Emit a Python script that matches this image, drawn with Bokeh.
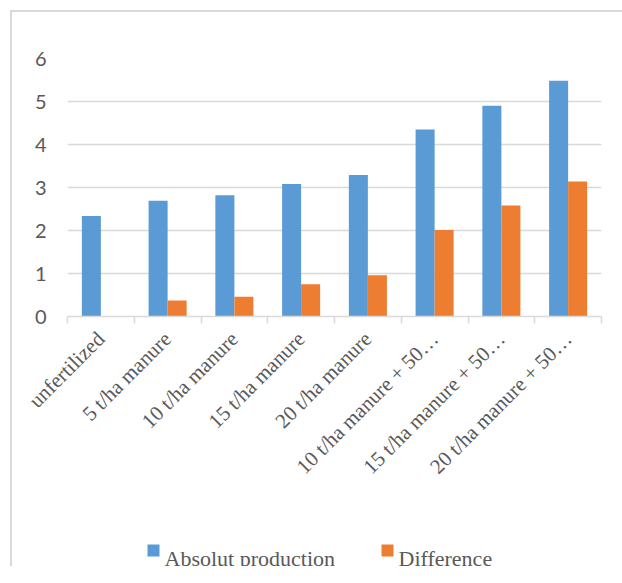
import math
from bokeh.plotting import figure
from bokeh.models import (ColumnDataSource, FixedTicker, Range1d, Label, BoxAnnotation)
from bokeh.layouts import column
from bokeh.transform import dodge
from bokeh.embed import file_html
from bokeh.resources import INLINE

categories = ["unfertilized", "5 t/ha manure", "10 t/ha manure", "15 t/ha manure",
              "20 t/ha manure", "10 t/ha manure + 50…", "15 t/ha manure + 50…",
              "20 t/ha manure + 50…"]
absolut_production = [2.34, 2.69, 2.82, 3.08, 3.29, 4.35, 4.90, 5.48]
difference = [0.0, 0.37, 0.46, 0.75, 0.96, 2.01, 2.58, 3.14]
series_names = ["Absolut production", "Difference"]
y_ticks = [0, 1, 2, 3, 4, 5, 6]

BLUE = "#5B9BD5"
ORANGE = "#ED7D31"
GRID = "#D9D9D9"
TXT = "#595959"
series_colors = [BLUE, ORANGE]

n = len(categories)
centers = [i + 0.5 for i in range(n)]
src = ColumnDataSource(dict(x=centers, a=absolut_production, d=difference))

p = figure(frame_width=534, frame_height=258, output_backend="svg", toolbar_location=None,
           x_range=Range1d(0, n), y_range=Range1d(0, 6),
           min_border_left=55, min_border_right=22, min_border_top=46, min_border_bottom=220)
p.outline_line_color = None
p.background_fill_color = "white"
p.border_fill_color = "white"

bw = 0.285
p.vbar(x=dodge("x", -bw / 2, range=p.x_range), top="a", width=bw, source=src,
       fill_color=BLUE, line_color=None)
p.vbar(x=dodge("x", bw / 2, range=p.x_range), top="d", width=bw, source=src,
       fill_color=ORANGE, line_color=None)

# y axis
p.yaxis.ticker = FixedTicker(ticks=y_ticks)
p.yaxis.axis_line_color = None
p.yaxis.major_tick_line_color = None
p.yaxis.minor_tick_line_color = None
p.yaxis.major_label_text_font = "Lato"
p.yaxis.major_label_text_font_size = "20px"
p.yaxis.major_label_text_color = TXT
p.yaxis.major_label_standoff = 15
p.ygrid.ticker = FixedTicker(ticks=y_ticks)
p.ygrid.grid_line_color = GRID
p.ygrid.grid_line_width = 1.5
p.xgrid.grid_line_color = None

# x axis
p.xaxis.ticker = FixedTicker(ticks=centers, minor_ticks=list(range(n + 1)))
p.xaxis.major_label_overrides = {c: lab for c, lab in zip(centers, categories)}
p.xaxis.major_label_orientation = math.pi / 4
p.xaxis.major_tick_in = 0
p.xaxis.major_tick_out = 0
p.xaxis.minor_tick_in = 0
p.xaxis.minor_tick_out = 7
p.xaxis.minor_tick_line_color = GRID
p.xaxis.minor_tick_line_width = 1.5
p.xaxis.axis_line_color = GRID
p.xaxis.axis_line_width = 1.5
p.xaxis.major_label_text_font = "Liberation Serif"
p.xaxis.major_label_text_font_size = "21px"
p.xaxis.major_label_text_color = TXT
p.xaxis.major_label_standoff = 12

# legend strip: a pixel-scaled strip below the chart holding swatches and serif labels
p2 = figure(width=611, height=30, output_backend="svg", toolbar_location=None,
            x_axis_type=None, y_axis_type=None, min_border=0,
            x_range=Range1d(0, 534), y_range=Range1d(0, 30))
p2.outline_line_color = None
p2.xgrid.grid_line_color = None
p2.ygrid.grid_line_color = None

legend_swatch_left = [80, 314]
for name, color, sx in zip(series_names, series_colors, legend_swatch_left):
    p2.add_layout(BoxAnnotation(left=sx, right=sx + 12, bottom=10, top=22,
                                fill_color=color, fill_alpha=1.0, line_color=None))
    p2.add_layout(Label(x=sx + 17, y=8, text=name, text_font="Liberation Serif",
                        text_font_size="22px", text_color=TXT,
                        text_baseline="alphabetic", text_align="left"))

layout = column(p, p2, spacing=0,
                styles={"margin-left": "10px", "margin-top": "10px",
                        "border-left": "2px solid #D9D9D9",
                        "border-top": "2px solid #D9D9D9"})

open("out.html", "w").write(file_html(layout, INLINE))
